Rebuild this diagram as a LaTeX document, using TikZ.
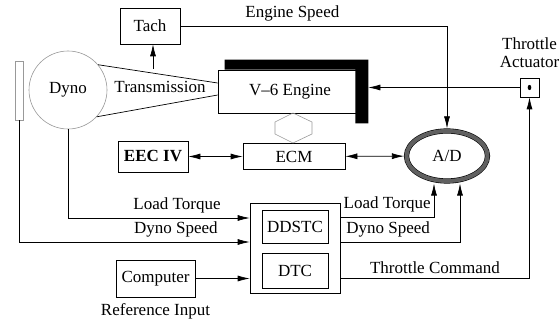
\documentclass[tikz,border=0pt]{standalone}
\usepackage{fontspec}
\setmainfont{Liberation Serif}
\usetikzlibrary{arrows,arrows.meta,calc,positioning,shapes.geometric}
\tikzset{
  blk/.style={draw,rectangle,inner sep=1pt},
  adc/.style={ellipse,draw,line width=0.6pt,double=gray!75!black,double distance=4pt,outer sep=2.6pt,minimum width=81,minimum height=50},
  faint/.style={draw=gray!80,line width=0.6pt},
  lbl/.style={inner sep=1pt}
}

\begin{document}
\begin{tikzpicture}[x=1pt,y=-1pt,line width=0.7pt,>={Latex[length=12pt,width=6pt]},font=\fontsize{17}{18}\selectfont]
        \useasboundingbox (0,0) rectangle (560,323);
        % plant side
        \node[blk,minimum width=60,minimum height=36] (tach) at (150,26) {Tach};
        \node[blk,minimum width=144,minimum height=43] (engine) at (290,91.5) {V--6 Engine};
        \fill ([shift={(7pt,10pt)}]engine.north west) -- ([shift={(6pt,10pt)}]engine.north east)
          -- ([shift={(6pt,-10pt)}]engine.south east) -- ([shift={(-7pt,-10pt)}]engine.south east)
          -- ([xshift=-7pt]engine.north east) -- ([xshift=7pt]engine.north west) -- cycle;
        \node[circle,faint,minimum size=78,inner sep=0] (dyno) at (68,90) {Dyno};
        \node[faint,rectangle,minimum width=8,minimum height=59,inner sep=0] (bar) at (19,90.5) {};
        \coordinate (trtop) at ([yshift=8.5pt]engine.west);
        \coordinate (trbot) at ([yshift=-3.5pt]engine.west);
        \draw (dyno.40) -- (trtop) (dyno.-43) -- (trbot);
        \node[lbl] (trans) at (160,87) {Transmission};
        \coordinate (shaft) at (153,69);
        \draw[->] (shaft) -- (shaft |- tach.south);
        \node[blk,minimum size=19,inner sep=0] (act) at (529.5,87.5) {};
        \fill (act) ellipse (1.8pt and 2.6pt);
        \node[lbl,align=center,above=9pt of act] (actlbl) {Throttle\\Actuator};
        % electronics
        \node[blk,minimum width=70,minimum height=31] (eec) at (153,156.5) {\bfseries EEC IV};
        \node[blk,minimum width=102,minimum height=26] (ecm) at (294,156.5) {ECM};
        \node[adc] (ad) at (447,156) {A/D};
        \draw[faint] (293,113) -- ++(19,9) -- ++(0,12) -- ++(-19,9) -- ++(-18,-9) -- ++(0,-12) -- cycle;
        \node[blk,minimum width=90,minimum height=90] (ctrl) at (295,248) {};
        \node[blk,minimum width=66,minimum height=33] (ddstc) at (295,226.5) {DDSTC};
        \node[blk,minimum width=66,minimum height=35] (dtc) at (295,270.5) {DTC};
        \node[blk,minimum width=79,minimum height=37] (comp) at (155.5,278.5) {Computer};
        \node[lbl,below=5pt of comp] (refin) {Reference Input};
        % signals
        \path[<->]
          (eec) edge (ecm)
          (ecm) edge (ad);
        \draw[->] (tach.east) -| (ad.north) node[pos=0.21,above=1pt] {Engine Speed};
        \draw[->,shorten >=6pt] (act.west) -- (act.west -| engine.east);
        \draw[->] (dyno.south) |- ([yshift=30pt]ctrl.west) node[pos=0.8,above=1pt] {Load Torque};
        \draw[->] (bar.south) |- ([yshift=6pt]ctrl.west) node[pos=0.84,above=1pt] {Dyno Speed};
        \draw[->] (comp.east) -- (comp.east -| ctrl.west);
        \draw[->] ([yshift=31pt]ctrl.east) -| ([xshift=-13pt]ad.south) node[pos=0.25,above=1pt] {Load Torque};
        \draw[->] ([yshift=6pt]ctrl.east) -| ([xshift=13pt]ad.south) node[pos=0.2,above=1pt] {Dyno Speed};
        \draw[->] ([yshift=-30pt]ctrl.east) -| (act.south) node[pos=0.25,above=1pt] {Throttle Command};
      \end{tikzpicture}
\end{document}
